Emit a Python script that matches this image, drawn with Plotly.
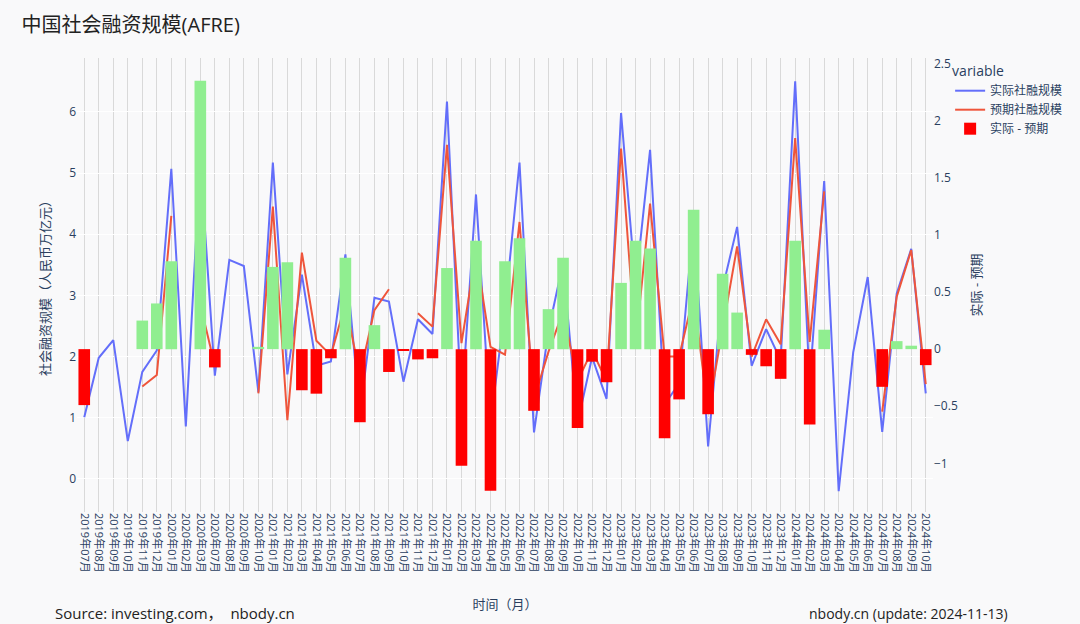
import plotly.graph_objects as go

months = [
    "2019年07月", "2019年08月", "2019年09月", "2019年10月", "2019年11月", "2019年12月",
    "2020年01月", "2020年02月", "2020年03月", "2020年07月", "2020年08月", "2020年09月", "2020年10月",
    "2021年01月", "2021年02月", "2021年03月", "2021年04月", "2021年05月", "2021年06月",
    "2021年07月", "2021年08月", "2021年09月", "2021年10月", "2021年11月", "2021年12月",
    "2022年01月", "2022年02月", "2022年03月", "2022年04月", "2022年05月", "2022年06月",
    "2022年07月", "2022年08月", "2022年09月", "2022年10月", "2022年11月", "2022年12月",
    "2023年01月", "2023年02月", "2023年03月", "2023年04月", "2023年05月", "2023年06月",
    "2023年07月", "2023年08月", "2023年09月", "2023年10月", "2023年11月", "2023年12月",
    "2024年01月", "2024年02月", "2024年03月", "2024年04月", "2024年05月", "2024年06月",
    "2024年07月", "2024年08月", "2024年09月", "2024年10月",
]

actual = [
    1.01, 1.98, 2.27, 0.62, 1.75, 2.10,
    5.07, 0.86, 5.20, 1.69, 3.58, 3.48, 1.42,
    5.17, 1.71, 3.34, 1.85, 1.92, 3.67,
    1.06, 2.96, 2.90, 1.59, 2.61, 2.37,
    6.17, 1.19, 4.65, 0.91, 2.79, 5.17,
    0.76, 2.43, 3.53, 0.91, 1.99, 1.31,
    5.98, 3.16, 5.38, 1.22, 1.56, 4.22,
    0.53, 3.12, 4.12, 1.85, 2.45, 1.94,
    6.50, 1.56, 4.87, -0.20, 2.07, 3.30,
    0.77, 3.03, 3.76, 1.40,
]

expected = [
    1.50, None, None, None, 1.51, 1.70,
    4.30, None, 2.85, 1.85, None, None, 1.40,
    4.45, 0.96, 3.70, 2.26, 2.02, 2.87,
    1.70, 2.76, 3.10, None, 2.71, 2.49,
    5.46, 2.22, 3.70, 2.16, 2.03, 4.20,
    1.31, 2.08, 2.73, 1.60, 2.10, 1.60,
    5.40, 2.20, 4.50, 2.00, 2.00, 3.00,
    1.10, 2.46, 3.80, 2.00, 2.61, 2.20,
    5.57, 2.24, 4.70, None, None, None,
    1.10, 2.98, 3.74, 1.55,
]

diff = [
    -0.49, None, None, None, 0.25, 0.40,
    0.77, None, 2.35, -0.16, None, None, 0.02,
    0.72, 0.76, -0.36, -0.39, -0.08, 0.80,
    -0.64, 0.21, -0.20, -0.01, -0.09, -0.08,
    0.71, -1.02, 0.95, -1.24, 0.77, 0.97,
    -0.54, 0.35, 0.80, -0.69, -0.11, -0.29,
    0.58, 0.95, 0.88, -0.78, -0.44, 1.22,
    -0.57, 0.66, 0.32, -0.05, -0.15, -0.26,
    0.95, -0.66, 0.17, None, None, None,
    -0.33, 0.07, 0.03, -0.14,
]

POS_COLOR = "#90EE90"
NEG_COLOR = "#FF0000"
bar_colors = [POS_COLOR if (d is not None and d >= 0) else NEG_COLOR for d in diff]

TXT = "#2a3f5f"
FONT = "Open Sans, Noto Sans CJK SC, sans-serif"
BG = "#f9f9fa"

fig = go.Figure()
fig.add_trace(go.Scatter(x=months, y=actual, mode="lines", name="实际社融规模",
                         line=dict(color="#636efa", width=2), yaxis="y"))
fig.add_trace(go.Scatter(x=months, y=expected, mode="lines", name="预期社融规模",
                         line=dict(color="#EF553B", width=2), yaxis="y"))
fig.add_trace(go.Bar(x=months, y=diff, name="实际 - 预期",
                     marker=dict(color=bar_colors, line=dict(width=0)), yaxis="y2"))

fig.update_layout(
    width=1080, height=624,
    margin=dict(l=77, r=143, t=58, b=112),
    paper_bgcolor=BG, plot_bgcolor=BG,
    font=dict(family=FONT, color=TXT, size=12),
    title=dict(text="中国社会融资规模(AFRE)", x=0.02, xanchor="left", y=0.96, yanchor="middle",
               font=dict(size=20, color="#222222", family=FONT)),
    bargap=0.2,
    showlegend=True,
    legend=dict(title=dict(text="variable", font=dict(size=14)), x=1.02, y=1, xanchor="left", yanchor="top",
                bgcolor="rgba(0,0,0,0)", font=dict(size=12)),
    xaxis=dict(type="category", tickangle=90, tickfont=dict(size=11),
               showgrid=True, gridcolor="#d9d9d9", gridwidth=1,
               title=dict(text="时间（月）", font=dict(size=13), standoff=28),
               range=[-0.5, len(months) - 0.5], showline=False, zeroline=False),
    yaxis=dict(title=dict(text="社会融资规模（人民币万亿元）", font=dict(size=13)),
               range=[-0.54, 6.88], dtick=1, showgrid=True, gridcolor="#ffffff",
               zeroline=False, tickfont=dict(size=12)),
    yaxis2=dict(title=dict(text="实际 - 预期", font=dict(size=13)), overlaying="y", side="right",
                range=[-1.426, 2.549], dtick=0.5, showgrid=False, zeroline=False,
                showline=False, tickfont=dict(size=12)),
    annotations=[
        dict(text="Source: investing.com，  nbody.cn", xref="paper", yref="paper",
             x=-0.028, y=-0.248, xanchor="left", yanchor="bottom", showarrow=False,
             font=dict(size=15, color="#222222", family=FONT)),
        dict(text="nbody.cn (update: 2024-11-13)", xref="paper", yref="paper",
             x=0.853, y=-0.248, xanchor="left", yanchor="bottom", showarrow=False,
             font=dict(size=14, color="#222222", family=FONT)),
    ],
)

fig.write_html("out.html")
